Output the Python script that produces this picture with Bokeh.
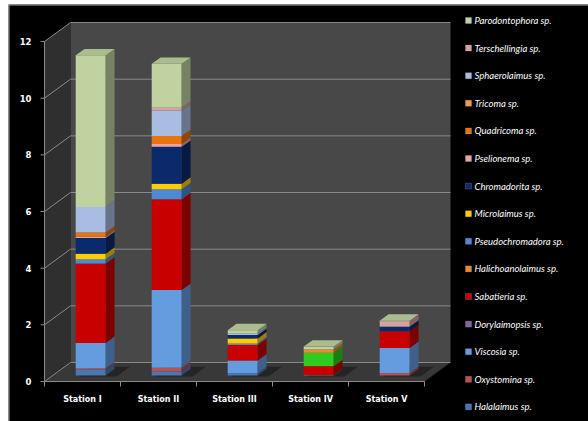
import numpy as np
from bokeh.plotting import figure
from bokeh.models import Range1d, ColumnDataSource
from bokeh.core.properties import value
from bokeh.embed import file_html
from bokeh.resources import INLINE

# ---------------- data ----------------
stations = ["Station I", "Station II", "Station III", "Station IV", "Station V"]
y_ticks = [0, 2, 4, 6, 8, 10, 12]

halalaimus = [0.20, 0.15, 0.08, 0.00, 0.00]
oxystomina = [0.05, 0.12, 0.00, 0.03, 0.08]
viscosia = [0.90, 2.75, 0.45, 0.00, 0.89]
dorylaimopsis = [0.00, 0.00, 0.00, 0.00, 0.00]
sabatieria = [2.80, 3.20, 0.55, 0.30, 0.59]
unlisted_green = [0.00, 0.00, 0.00, 0.47, 0.00]
halichoanolaimus = [0.00, 0.00, 0.00, 0.12, 0.00]
pseudochromadora = [0.15, 0.35, 0.05, 0.00, 0.00]
microlaimus = [0.20, 0.20, 0.18, 0.00, 0.00]
chromadorita = [0.55, 1.30, 0.12, 0.00, 0.165]
pselionema = [0.05, 0.10, 0.00, 0.00, 0.00]
quadricoma = [0.15, 0.28, 0.00, 0.00, 0.00]
tricoma = [0.00, 0.00, 0.00, 0.00, 0.00]
sphaerolaimus = [0.90, 0.90, 0.05, 0.00, 0.00]
terschellingia = [0.00, 0.10, 0.00, 0.00, 0.19]
parodontophora = [5.35, 1.55, 0.12, 0.10, 0.02]

# (label, values, colour, shown in legend) -- bottom of stack first
series = [
    ("Halalaimus sp.", halalaimus, "#4a76b4", True),
    ("Oxystomina sp.", oxystomina, "#c0504d", True),
    ("Viscosia sp.", viscosia, "#659ce0", True),
    ("Dorylaimopsis sp.", dorylaimopsis, "#8064a2", True),
    ("Sabatieria sp.", sabatieria, "#c80000", True),
    ("", unlisted_green, "#2ecc1e", False),
    ("Halichoanolaimus sp.", halichoanolaimus, "#e98a2c", True),
    ("Pseudochromadora sp.", pseudochromadora, "#4d8ad6", True),
    ("Microlaimus sp.", microlaimus, "#ffcc00", True),
    ("Chromadorita sp.", chromadorita, "#0b2a6b", True),
    ("Pselionema sp.", pselionema, "#e8a4a4", True),
    ("Quadricoma sp.", quadricoma, "#e8740e", True),
    ("Tricoma sp.", tricoma, "#f59a4a", True),
    ("Sphaerolaimus sp.", sphaerolaimus, "#a9bce2", True),
    ("Terschellingia sp.", terschellingia, "#d8a0a0", True),
    ("Parodontophora sp.", parodontophora, "#bfd29f", True),
]

# ---------------- layout / 3D projection constants ----------------
W, H = 588, 421
PXX, PXY = 76.0, 28.33          # pixels per data unit (x, y)
X0PIX, Y0PIX = 6.0, 381.0       # pixel position of x=0 / y=0 on the front plane
BL, BT = 8, 4                   # white margin left / top (chart border)
DX, DY = 0.342, 0.671           # full-depth offset in data units
Z_FRONT, Z_DEPTH = 0.316, 0.34  # bar front plane / bar depth
HALF = 0.1975                   # half bar width


def xpix(X):
    return (X - X0PIX) / PXX


def ypix(Y):
    return (Y0PIX - Y) / PXY


def shade(hexcol, f):
    h = hexcol.lstrip("#")
    r, g, b = (int(h[i:i + 2], 16) for i in (0, 2, 4))
    if f <= 1:
        r, g, b = r * f, g * f, b * f
    else:
        t = f - 1
        r, g, b = r + (255 - r) * t, g + (255 - g) * t, b + (255 - b) * t
    return "#%02x%02x%02x" % (int(r), int(g), int(b))


p = figure(width=W, height=H, output_backend="svg", toolbar_location=None,
           x_range=Range1d(xpix(BL), xpix(W)),
           y_range=Range1d(ypix(H), ypix(BT)),
           x_axis_location=None, y_axis_location=None,
           min_border_left=BL, min_border_right=0, min_border_top=BT, min_border_bottom=0,
           background_fill_color="black", border_fill_color="white")
p.outline_line_color = None
p.xgrid.visible = False
p.ygrid.visible = False

# chart border (left and top edges only are visible in the reference)
p.segment(x0=[xpix(BL + 0.5), xpix(BL)], y0=[ypix(H), ypix(BT + 0.5)],
          x1=[xpix(BL + 0.5), xpix(W)], y1=[ypix(BT), ypix(BT + 0.5)],
          line_color="#a6a6a6", line_width=1)

n = len(stations)
xs_c = np.arange(1, n + 1, dtype=float)
x_lo, x_hi = 0.5, n + 0.5
y_top = max(y_ticks)

# walls and floor
p.patch([x_lo, x_lo, x_lo + DX, x_lo + DX], [0, y_top, y_top + DY, DY],
        fill_color="#2f2f2f", line_color=None)
p.patch([x_lo + DX, x_hi + DX, x_hi + DX, x_lo + DX], [DY, DY, y_top + DY, y_top + DY],
        fill_color="#484848", line_color=None)
p.patch([x_lo, x_hi, x_hi + DX, x_lo + DX], [0, 0, DY, DY],
        fill_color="#383838", line_color=None)
p.line([x_hi, x_hi + DX], [0, DY], line_color="#1e1e1e", line_width=1)

# gridlines on back wall and left wall
gv = np.array(y_ticks, dtype=float)
p.segment(x0=[x_lo + DX] * len(gv), y0=gv + DY, x1=[x_hi + DX] * len(gv), y1=gv + DY,
          line_color="#8a8a8a", line_width=1)
p.segment(x0=[x_lo] * len(gv), y0=gv, x1=[x_lo + DX] * len(gv), y1=gv + DY,
          line_color="#8a8a8a", line_width=1)

# bar shadows on the floor
sh_xs, sh_ys = [], []
for i in range(n):
    xl = xs_c[i] - HALF + 0.06
    xr = xs_c[i] + HALF + 0.16
    z0, z1 = Z_FRONT - 0.05, Z_FRONT + Z_DEPTH + 0.12
    sh_xs.append([xl + DX * z0, xr + DX * z0, xr + DX * z1, xl + DX * z1])
    sh_ys.append([DY * z0, DY * z0, DY * z1, DY * z1])
p.patches(sh_xs, sh_ys, fill_color="#1c1c1c", fill_alpha=0.7, line_color=None)

# bars
fx = Z_FRONT * DX
fy = Z_FRONT * DY
sx = Z_DEPTH * DX
sy = Z_DEPTH * DY
cum = np.zeros(n)
side_xs, side_ys, side_cols = [], [], []
top_series = [None] * n
for label, vals, col, show in series:
    v = np.array(vals, dtype=float)
    bottom = cum + fy
    top = cum + v + fy
    src = ColumnDataSource(dict(left=xs_c - HALF + fx, right=xs_c + HALF + fx,
                                bottom=bottom, top=top))
    p.quad(left="left", right="right", bottom="bottom", top="top", source=src,
           fill_color=col, line_color=None)
    for i in range(n):
        if v[i] > 0:
            xr = xs_c[i] + HALF + fx
            side_xs.append([xr, xr + sx, xr + sx, xr])
            side_ys.append([bottom[i], bottom[i] + sy, top[i] + sy, top[i]])
            side_cols.append(shade(col, 0.62))
            top_series[i] = col
    cum = cum + v

p.patches(side_xs, side_ys, fill_color=side_cols, line_color=None)

top_xs, top_ys, top_cols = [], [], []
for i in range(n):
    xl = xs_c[i] - HALF + fx
    xr = xs_c[i] + HALF + fx
    t = cum[i] + fy
    top_xs.append([xl, xr, xr + sx, xl + sx])
    top_ys.append([t, t, t + sy, t + sy])
    top_cols.append(shade(top_series[i], 0.9))
p.patches(top_xs, top_ys, fill_color=top_cols, line_color=None)

ax_col = "#8a8a8a"
tick_font = value("DejaVu Sans")

# value axis along the front-left edge
p.segment(x0=[x_lo], y0=[0], x1=[x_lo], y1=[y_top], line_color=ax_col, line_width=1)
p.segment(x0=[x_lo - 4 / PXX] * len(gv), y0=gv, x1=[x_lo] * len(gv), y1=gv,
          line_color=ax_col, line_width=1)
p.text(x=[xpix(31)] * len(gv), y=gv, text=[str(t) for t in y_ticks], text_color="white",
       text_font=tick_font, text_font_style="bold", text_font_size="8.5px",
       text_align="right", text_baseline="middle")

# category axis along the front edge of the floor
p.segment(x0=[x_lo], y0=[0], x1=[x_hi], y1=[0], line_color=ax_col, line_width=1)
bounds = np.arange(x_lo, x_hi + 0.01, 1.0)
p.segment(x0=bounds, y0=[0] * len(bounds), x1=bounds, y1=[-5 / PXY] * len(bounds),
          line_color=ax_col, line_width=1)
p.text(x=xs_c, y=[-18 / PXY] * n, text=stations, text_color="white",
       text_font=tick_font, text_font_style="bold", text_font_size="8px",
       text_align="center", text_baseline="middle")

# legend (top entry = top of the stack)
leg = [(lab, col) for lab, vals, col, show in series if show][::-1]
k = np.arange(len(leg))
leg_y = ypix(20 + 27.6 * k)
p.scatter(x=[xpix(468)] * len(leg), y=leg_y, marker="square", size=6,
          fill_color=[c for _, c in leg], line_color="#dddddd", line_alpha=0.35, line_width=0.5)
p.text(x=[xpix(474)] * len(leg), y=leg_y, text=[l for l, _ in leg], text_color="white",
       text_font=value("Lato"), text_font_style="italic", text_font_size="9.5px",
       text_align="left", text_baseline="middle")

open("out.html", "w").write(file_html(p, INLINE))
